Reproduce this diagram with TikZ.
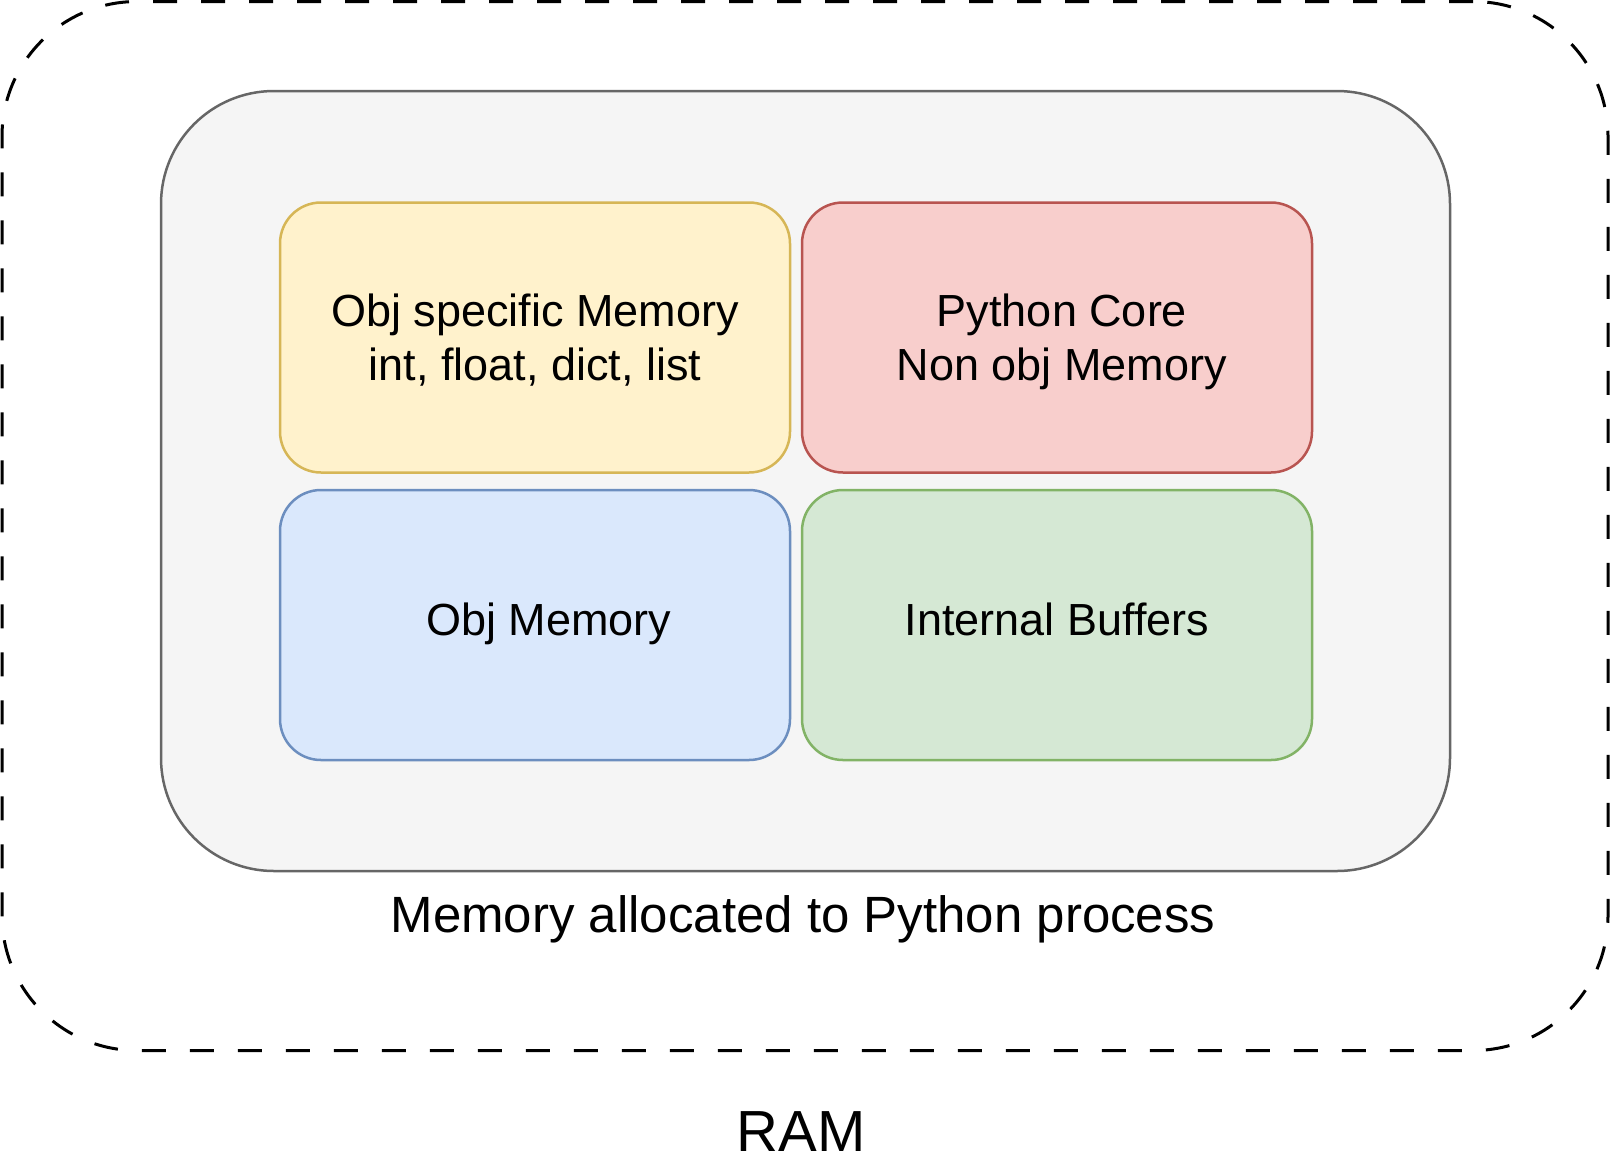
\documentclass[tikz,border=0pt]{standalone}
\usepackage{fontspec}
\setmainfont{Liberation Sans}
\definecolor{grayfill}{HTML}{F5F5F5}
\definecolor{graydraw}{HTML}{666666}
\definecolor{yellowfill}{HTML}{FFF2CC}
\definecolor{yellowdraw}{HTML}{D6B656}
\definecolor{redfill}{HTML}{F8CECC}
\definecolor{reddraw}{HTML}{B85450}
\definecolor{bluefill}{HTML}{DAE8FC}
\definecolor{bluedraw}{HTML}{6C8EBF}
\definecolor{greenfill}{HTML}{D5E8D4}
\definecolor{greendraw}{HTML}{82B366}
\tikzset{
  membox/.style={rounded corners=41pt,line width=2.5pt,minimum width=510pt,
                 minimum height=270pt,align=center,inner sep=0pt,
                 font=\fontsize{45}{54}\selectfont},
  toprow/.style={membox,text height=102pt},
}

\begin{document}
\begin{tikzpicture}[x=1pt,y=-1pt]
  \useasboundingbox (0,0) rectangle (1611,1173);
  \node[draw,dashed,dash pattern=on 24pt off 24pt,line width=3pt,rounded corners=135pt,
        minimum width=1606pt,minimum height=1049pt,inner sep=0pt] (ram) at (805,526) {};
  \node[draw=graydraw,fill=grayfill,line width=2.5pt,rounded corners=113pt,
        minimum width=1289pt,minimum height=780pt,inner sep=0pt] (proc) at (805.5,481) {};
  \node[toprow,draw=yellowdraw,fill=yellowfill] (objspec) at (535,337.5)
        {Obj specific Memory\strut\\int, float, dict, list\strut};
  \node[toprow,draw=reddraw,fill=redfill]       (core)    at (1057,337.5)
        {\hspace*{10pt}Python Core\strut\\\hspace*{10pt}Non obj Memory\strut};
  \node[membox,draw=bluedraw,fill=bluefill]     (objmem)  at (535,625)
        {\hspace*{28pt}Obj Memory\strut};
  \node[membox,draw=greendraw,fill=greenfill]   (buffers) at (1057,625)
        {Internal Buffers\strut};
  \node[anchor=base,font=\fontsize{51}{61}\selectfont] (proclabel) at (803,932)
        {Memory allocated to Python process};
  \node[anchor=base,font=\fontsize{58}{70}\selectfont] (ramlabel)  at (801,1151) {RAM};
\end{tikzpicture}
\end{document}
